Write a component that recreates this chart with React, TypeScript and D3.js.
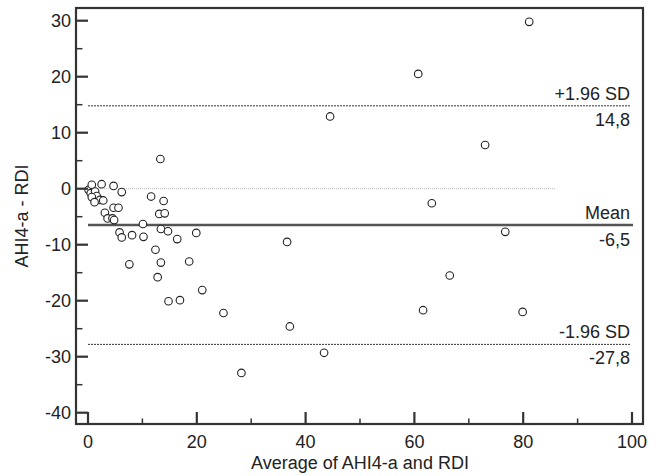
import React from "react";
import * as d3 from "d3";

const avgValues = [
  0.1, 0.7, 0.5, 1.3, 1.6, 0.7, 2.2, 2.8, 1.2, 2.5, 4.7, 6.2, 3.1, 4.7, 5.6, 3.6, 4.5, 4.8,
  5.8, 6.2, 8.1, 10.2, 10.1, 11.6, 13.9, 13.3, 13.1, 14.1, 13.4, 14.7, 16.4, 19.9, 12.4, 7.6,
  13.4, 18.6, 12.8, 21.0, 14.8, 16.9, 24.9, 28.2, 37.1, 43.4, 61.6, 79.9, 36.6, 66.5, 44.5,
  60.7, 81.1, 73.0, 63.2, 76.7,
];
const diffValues = [
  -0.2, 0.7, -0.8, -0.5, -1.3, -1.5, -2.0, -2.1, -2.4, 0.8, 0.5, -0.6, -4.3, -3.4, -3.4, -5.3,
  -5.3, -5.6, -7.8, -8.7, -8.3, -8.6, -6.3, -1.4, -2.2, 5.3, -4.5, -4.4, -7.2, -7.6, -9.0, -7.9,
  -10.9, -13.5, -13.2, -13.0, -15.8, -18.1, -20.1, -19.9, -22.2, -32.9, -24.6, -29.3, -21.7,
  -22.0, -9.5, -15.5, 12.9, 20.5, 29.8, 7.8, -2.6, -7.7,
];
const xTicks = [0, 20, 40, 60, 80, 100];
const xMinorTicks = [10, 30, 50, 70, 90];
const yTicks = [-40, -30, -20, -10, 0, 10, 20, 30];
const yMinorTicks = [-35, -25, -15, -5, 5, 15, 25];
const meanValue = -6.5;
const upperSD = 14.8;
const lowerSD = -27.8;
const meanLabel = "-6,5";
const upperLabel = "14,8";
const lowerLabel = "-27,8";
const xTitle = "Average of AHI4-a and RDI";
const yTitle = "AHI4-a - RDI";

export default function App() {
  const W = 662, H = 476;
  const left = 76, right = 643, top = 8, bottom = 424;
  const x = d3.scaleLinear().domain([0, 100]).range([88, 632]);
  const y = d3.scaleLinear().domain([0, 30]).range([188.7, 20.7]);
  const font = "'Liberation Sans', Arial, Helvetica, sans-serif";
  const axisColor = "#333";
  const fs = 18;
  const labelX = 630;
  return (
    <svg width={W} height={H} style={{ position: "absolute", left: 0, top: 0 }} fontFamily={font}>
      <rect x={0} y={0} width={W} height={H} fill="#fff" />
      <line x1={x(0)} x2={x(86)} y1={y(0)} y2={y(0)} stroke="#bbb" strokeWidth={1} strokeDasharray="1,1" />
      <line x1={x(0)} x2={labelX} y1={y(upperSD)} y2={y(upperSD)} stroke="#333" strokeWidth={1} strokeDasharray="2,1" />
      <line x1={x(0)} x2={labelX} y1={y(lowerSD)} y2={y(lowerSD)} stroke="#333" strokeWidth={1} strokeDasharray="2,1" />
      <line x1={x(0)} x2={633} y1={y(meanValue)} y2={y(meanValue)} stroke="#555" strokeWidth={2.5} />
      <g fontSize={fs} fill="#222" textAnchor="end">
        <text x={labelX} y={y(upperSD) - 6}>+1.96 SD</text>
        <text x={labelX} y={y(upperSD) + 20}>{upperLabel}</text>
        <text x={labelX} y={y(meanValue) - 6}>Mean</text>
        <text x={labelX} y={y(meanValue) + 21}>{meanLabel}</text>
        <text x={labelX} y={y(lowerSD) - 6}>-1.96 SD</text>
        <text x={labelX} y={y(lowerSD) + 20}>{lowerLabel}</text>
      </g>
      {avgValues.map((a, i) => (
        <circle key={i} cx={x(a)} cy={y(diffValues[i])} r={3.8} fill="#fff" stroke="#222" strokeWidth={1.1} />
      ))}
      <rect x={left} y={top} width={right - left} height={bottom - top} fill="none" stroke={axisColor} strokeWidth={2.2} />
      {yTicks.map((t) => (
        <g key={"y" + t}>
          <line x1={left} x2={88} y1={y(t)} y2={y(t)} stroke={axisColor} strokeWidth={2.2} />
          <text x={71} y={y(t)} dy="0.35em" fontSize={fs} textAnchor="end" fill="#222">{t}</text>
        </g>
      ))}
      {yMinorTicks.map((t) => (
        <line key={"ym" + t} x1={left} x2={82.5} y1={y(t)} y2={y(t)} stroke={axisColor} strokeWidth={1.5} />
      ))}
      {xTicks.map((t) => (
        <g key={"x" + t}>
          <line x1={x(t)} x2={x(t)} y1={bottom} y2={412} stroke={axisColor} strokeWidth={2.2} />
          <text x={x(t)} y={448} fontSize={fs} textAnchor="middle" fill="#222">{t}</text>
        </g>
      ))}
      {xMinorTicks.map((t) => (
        <line key={"xm" + t} x1={x(t)} x2={x(t)} y1={bottom} y2={418.5} stroke={axisColor} strokeWidth={1.5} />
      ))}
      <text x={360} y={469} fontSize={fs} textAnchor="middle" fill="#222">{xTitle}</text>
      <text transform={`translate(28,216) rotate(-90)`} fontSize={fs} textAnchor="middle" fill="#222">{yTitle}</text>
    </svg>
  );
}
